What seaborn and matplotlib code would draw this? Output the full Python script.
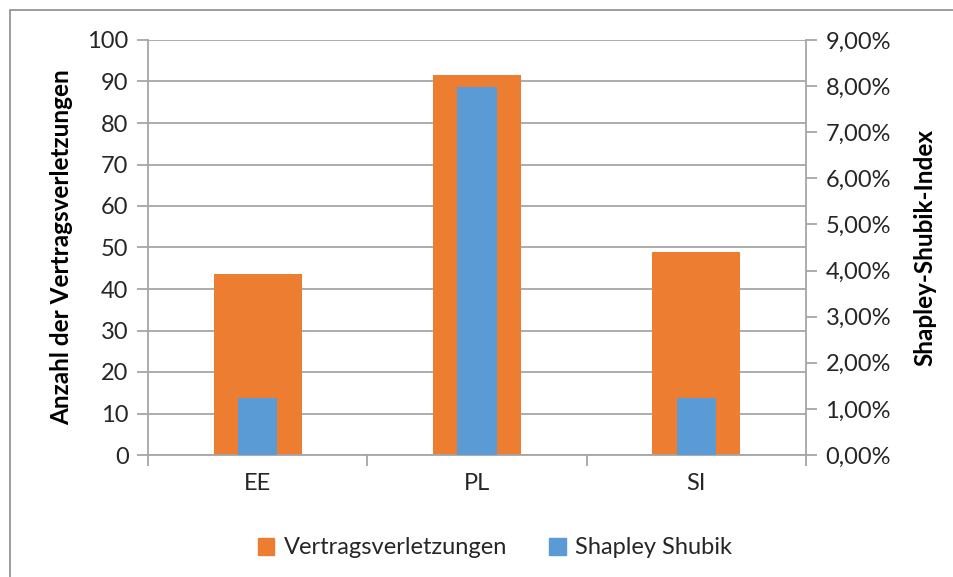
import matplotlib
matplotlib.use("Agg")
import matplotlib.pyplot as plt
import matplotlib.patches as mpatches
from matplotlib.ticker import FuncFormatter, FixedLocator
import pandas as pd
import seaborn as sns

# data
laender = ["EE", "PL", "SI"]
verletzungen = [43.5, 91.5, 49.0]
shapley_pct = [1.23, 7.97, 1.23]

ORANGE = "#ED7D31"
BLUE = "#5B9BD5"
GRID = "#A6A6A6"
TXT = "#262626"

sns.set_theme(style="white")
plt.rcParams["font.family"] = ["Lato", "DejaVu Sans"]

df = pd.DataFrame({"Land": laender, "Verletzungen": verletzungen, "Shapley": shapley_pct})

fig = plt.figure(figsize=(9.54, 5.77), dpi=100)
ax = fig.add_axes([148 / 954, 1 - 455 / 577, (806 - 148) / 954, (455 - 40) / 577])

sns.barplot(data=df, x="Land", y="Verletzungen", color=ORANGE, width=0.4,
            saturation=1, linewidth=0, ax=ax, zorder=2)
ax.set_ylim(0, 100)
ax.set_xlim(-0.5, 2.5)
ax.set_yticks(range(0, 101, 10))
ax.yaxis.grid(True, color=GRID, linewidth=1.3, zorder=0)
ax.set_axisbelow(True)

ax2 = ax.twinx()
sns.barplot(data=df, x="Land", y="Shapley", color=BLUE, width=0.18,
            saturation=1, linewidth=0, ax=ax2, zorder=3)
ax2.set_ylim(0, 9)
ax2.set_yticks(range(0, 10))
ax2.yaxis.set_major_formatter(FuncFormatter(lambda v, p: f"{v:.2f}%".replace(".", ",")))
ax2.set_xlim(-0.5, 2.5)

for a in (ax, ax2):
    for s in a.spines.values():
        s.set_visible(False)

ax.spines["left"].set_visible(True)
ax.spines["bottom"].set_visible(True)
ax2.spines["right"].set_visible(True)
for s in (ax.spines["left"], ax.spines["bottom"], ax2.spines["right"]):
    s.set_color(GRID)
    s.set_linewidth(1.3)

ax.tick_params(axis="y", left=True, length=8, width=1.3, color=GRID,
               labelsize=17, labelcolor=TXT, pad=6)
ax2.tick_params(axis="y", right=True, length=8, width=1.3, color=GRID,
                labelsize=17, labelcolor=TXT, pad=6)
ax.tick_params(axis="x", which="major", length=0, labelsize=17, labelcolor=TXT, pad=13)
ax.xaxis.set_minor_locator(FixedLocator([-0.5, 0.5, 1.5, 2.5]))
ax.tick_params(axis="x", which="minor", bottom=True, length=8, width=1.3, color=GRID)

ax.set_xlabel("")
ax.set_ylabel("Anzahl der Vertragsverletzungen", fontsize=17.5, fontweight="bold",
              color="black", labelpad=10)
ax2.set_ylabel("Shapley-Shubik-Index", fontsize=17.5, fontweight="bold",
               color="black", labelpad=16)

handles = [mpatches.Patch(color=ORANGE, label="Vertragsverletzungen"),
           mpatches.Patch(color=BLUE, label="Shapley Shubik")]
fig.legend(handles=handles, loc="center", bbox_to_anchor=(495 / 954, 1 - 548 / 577),
           ncol=2, frameon=False, fontsize=17, handlelength=0.7, handleheight=0.7,
           handletextpad=0.4, columnspacing=1.8, labelcolor=TXT)

# chart frame
fig.patches.append(mpatches.Rectangle((10 / 954, -0.05), 1.1, 1 - 10 / 577 + 0.05,
                                      transform=fig.transFigure, fill=False,
                                      edgecolor="#8C8C8C", linewidth=1.2))

fig.savefig("out.png", dpi=100)
